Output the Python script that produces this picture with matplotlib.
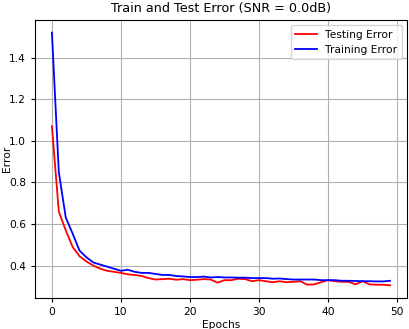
import matplotlib
matplotlib.use("Agg")
import matplotlib.pyplot as plt

# error per epoch
epochs = list(range(50))
testing_error = [1.07, 0.66, 0.57, 0.49, 0.445, 0.42, 0.40, 0.385, 0.375, 0.37,
                 0.365, 0.358, 0.355, 0.35, 0.34, 0.333, 0.335, 0.337, 0.332, 0.335,
                 0.33, 0.332, 0.335, 0.333, 0.318, 0.33, 0.33, 0.337, 0.335, 0.325,
                 0.33, 0.325, 0.32, 0.325, 0.32, 0.322, 0.325, 0.308, 0.31, 0.32,
                 0.33, 0.325, 0.322, 0.322, 0.31, 0.325, 0.31, 0.308, 0.308, 0.305]
training_error = [1.52, 0.85, 0.632, 0.554, 0.472, 0.44, 0.415, 0.405, 0.395, 0.385,
                  0.375, 0.38, 0.37, 0.365, 0.365, 0.36, 0.355, 0.355, 0.35, 0.348,
                  0.345, 0.345, 0.347, 0.343, 0.345, 0.343, 0.343, 0.342, 0.342, 0.34,
                  0.34, 0.34, 0.337, 0.338, 0.335, 0.333, 0.333, 0.333, 0.333, 0.33,
                  0.33, 0.33, 0.327, 0.327, 0.326, 0.325, 0.325, 0.324, 0.324, 0.327]

fig = plt.figure(figsize=(4.10, 3.29), dpi=100)
ax = fig.add_axes([35 / 410, 31 / 329, 372 / 410, 278 / 329])

ax.plot(epochs, testing_error, color='red', linewidth=1.3, label='Testing Error')
ax.plot(epochs, training_error, color='blue', linewidth=1.3, label='Training Error')

ax.set_title('Train and Test Error (SNR = 0.0dB)', fontsize=9.2)
ax.set_xlabel('Epochs', fontsize=7.7, labelpad=2)
ax.set_ylabel('Error', fontsize=7.7)
# keep the y label just inside the left edge
ax.yaxis.set_label_coords(-23 / 372, 0.5)
ax.tick_params(labelsize=7.7, length=3)
ax.set_xticks([0, 10, 20, 30, 40, 50])
ax.set_yticks([0.4, 0.6, 0.8, 1.0, 1.2, 1.4])
ax.grid(True, color='#b0b0b0', linewidth=0.8)
ax.legend(loc='upper right', fontsize=7.7)

fig.savefig('out.png', dpi=100)
